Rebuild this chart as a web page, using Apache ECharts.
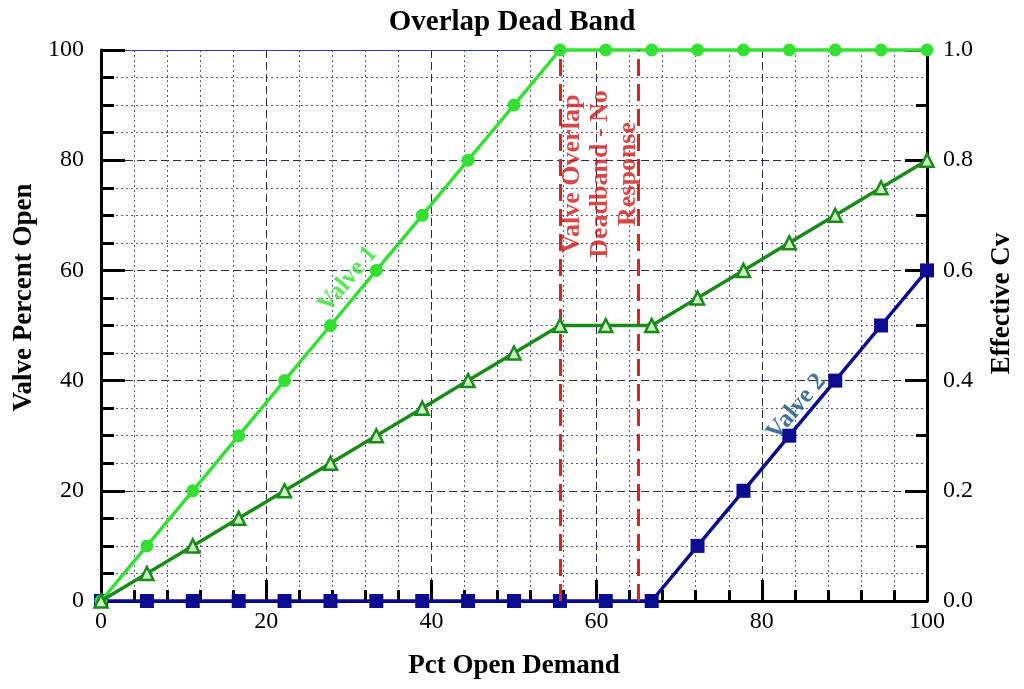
<!DOCTYPE html>
<html>
<head>
<meta charset="utf-8">
<script src="https://cdn.jsdelivr.net/npm/echarts@6/dist/echarts.min.js"></script>
<style>html,body{margin:0;padding:0;background:#fff;}#c{width:1024px;height:689px;}</style>
</head>
<body>
<div id="c"></div>
<script>
var demand = [0, 5.56, 11.11, 16.67, 22.22, 27.78, 33.33, 38.89, 44.44, 50, 55.56, 61.11, 66.67, 72.22, 77.78, 83.33, 88.89, 94.44, 100];
var valve1 = [0, 10, 20, 30, 40, 50, 60, 70, 80, 90, 100, 100, 100, 100, 100, 100, 100, 100, 100];
var valve2 = [0, 0, 0, 0, 0, 0, 0, 0, 0, 0, 0, 0, 0, 10, 20, 30, 40, 50, 60];
var effCv = [0, 0.05, 0.10, 0.15, 0.20, 0.25, 0.30, 0.35, 0.40, 0.45, 0.50, 0.50, 0.50, 0.55, 0.60, 0.65, 0.70, 0.75, 0.80];
var deadbandEdges = [55.56, 65];
var deadbandText = 'Valve Overlap\nDeadband - No\nResponse';
var deadbandPos = [60.4, 77.5];
var valve1LabelPos = [29.9, 58.4];
var valve2LabelPos = [84.2, 35.2];

function pairs(xs, ys) { return xs.map(function (x, i) { return [x, ys[i]]; }); }

var FONT = '"Liberation Serif", "DejaVu Serif", serif';
var chart = echarts.init(document.getElementById('c'));
var gridMajor = { show: true, lineStyle: { color: '#2a2a5a', width: 1, type: [8, 4] } };
var gridMinor = { show: true, lineStyle: { color: '#55558a', width: 1, type: [2, 3] } };

chart.setOption({
  animation: false,
  backgroundColor: '#ffffff',
  title: {
    text: 'Overlap Dead Band', left: 'center', top: 3,
    textStyle: { fontFamily: FONT, fontSize: 29, fontWeight: 'bold', color: '#000' }
  },
  grid: { left: 101, right: 96, top: 50, bottom: 88 },
  xAxis: [{
    type: 'value', min: 0, max: 100, interval: 20,
    name: 'Pct Open Demand', nameLocation: 'middle', nameGap: 52,
    nameTextStyle: { fontFamily: FONT, fontSize: 27, fontWeight: 'bold', color: '#000' },
    axisLine: { show: true, onZero: false, lineStyle: { color: '#000', width: 3 } },
    axisTick: { show: true, inside: true, length: 21, lineStyle: { color: '#000', width: 3 } },
    minorTick: { show: true, splitNumber: 5, length: 11, lineStyle: { color: '#000', width: 3 } },
    axisLabel: { fontFamily: FONT, fontSize: 24, color: '#000', margin: 9 },
    splitLine: gridMajor,
    minorSplitLine: gridMinor
  }, {
    type: 'value', min: 0, max: 100, position: 'top',
    axisLine: { show: true, onZero: false, lineStyle: { color: '#3a3a9a', width: 1 } },
    axisTick: { show: false }, axisLabel: { show: false }, splitLine: { show: false }
  }],
  yAxis: [{
    type: 'value', min: 0, max: 100, interval: 20,
    name: 'Valve Percent Open', nameLocation: 'middle', nameGap: 60,
    nameTextStyle: { fontFamily: FONT, fontSize: 27, fontWeight: 'bold', color: '#000', padding: [0, 0, 0, 56] },
    axisLine: { show: true, onZero: false, lineStyle: { color: '#000', width: 3 } },
    axisTick: { show: true, inside: true, length: 24, lineStyle: { color: '#000', width: 3 } },
    minorTick: { show: true, splitNumber: 4, length: 13, lineStyle: { color: '#000', width: 3 } },
    axisLabel: { fontFamily: FONT, fontSize: 24, color: '#000', margin: 17 },
    splitLine: gridMajor,
    minorSplitLine: gridMinor
  }, {
    type: 'value', min: 0, max: 1, interval: 0.2, position: 'right',
    name: 'Effective Cv', nameLocation: 'middle', nameGap: 62, nameRotate: 90,
    nameTextStyle: { fontFamily: FONT, fontSize: 27, fontWeight: 'bold', color: '#000', padding: [0, 0, 0, 44] },
    axisLine: { show: true, onZero: false, lineStyle: { color: '#000', width: 3 } },
    axisTick: { show: true, inside: true, length: 22, lineStyle: { color: '#000', width: 3 } },
    minorTick: { show: true, splitNumber: 2, length: 11, lineStyle: { color: '#000', width: 3 } },
    axisLabel: { fontFamily: FONT, fontSize: 24, color: '#000', margin: 16, formatter: function (v) { return v.toFixed(1); } },
    splitLine: { show: false }
  }],
  series: [{
    name: 'Valve 2', type: 'line', data: pairs(demand, valve2), clip: false,
    symbol: 'rect', symbolSize: 14,
    lineStyle: { color: '#0b0b8f', width: 3.5 }, itemStyle: { color: '#0b0b8f' }, z: 3
  }, {
    name: 'Valve 1', type: 'line', data: pairs(demand, valve1), clip: false,
    symbol: 'circle', symbolSize: 13,
    lineStyle: { color: '#33e033', width: 3.5 }, itemStyle: { color: '#33e033' }, z: 4,
    markLine: {
      silent: true, symbol: 'none', animation: false,
      lineStyle: { color: '#dd2222', width: 3, type: [17, 8] },
      label: { show: false },
      data: deadbandEdges.map(function (x) { return { xAxis: x }; })
    }
  }, {
    name: 'Effective Cv', type: 'line', yAxisIndex: 1, data: pairs(demand, effCv), clip: false,
    symbol: 'triangle', symbolSize: 13,
    lineStyle: { color: '#1a8a1a', width: 3.5 },
    itemStyle: { color: '#c8f5c0', borderColor: '#1a8a1a', borderWidth: 2.5 }, z: 5
  }, {
    type: 'scatter', symbolSize: 0, silent: true, z: 6,
    data: [
      { value: deadbandPos, label: { show: true, position: 'inside', formatter: deadbandText, rotate: 90, align: 'center', verticalAlign: 'middle', fontFamily: FONT, fontSize: 26, fontWeight: 'bold', color: '#cc1a1a', lineHeight: 28 } },
      { value: valve1LabelPos, label: { show: true, position: 'inside', formatter: 'Valve 1', rotate: 50, align: 'center', verticalAlign: 'middle', fontFamily: FONT, fontSize: 25, fontWeight: 'bold', color: '#33e033' } },
      { value: valve2LabelPos, label: { show: true, position: 'inside', formatter: 'Valve 2', rotate: 50, align: 'center', verticalAlign: 'middle', fontFamily: FONT, fontSize: 25, fontWeight: 'bold', color: '#12507e' } }
    ]
  }]
});
</script>
</body>
</html>
